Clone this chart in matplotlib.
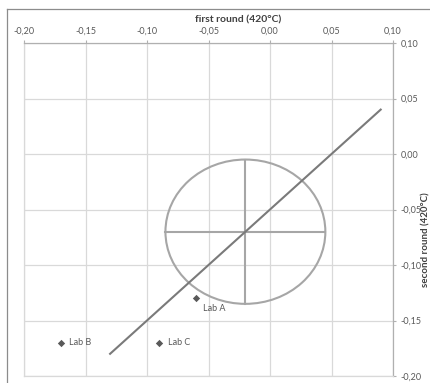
import matplotlib
matplotlib.use("Agg")
import matplotlib.pyplot as plt
from matplotlib.patches import Ellipse
from matplotlib.lines import Line2D

# ---- data ----
labs = ["Lab A", "Lab B", "Lab C"]
lab_x = [-0.06, -0.17, -0.09]
lab_y = [-0.13, -0.17, -0.17]

diag_x = [-0.13, 0.09]
diag_y = [-0.18, 0.04]

center = (-0.02, -0.07)
radius = 0.065
hbar_x = [-0.085, 0.045]
hbar_y = [-0.07, -0.07]
vbar_x = [-0.02, -0.02]
vbar_y = [-0.005, -0.135]

x_ticks = [-0.20, -0.15, -0.10, -0.05, 0.00, 0.05, 0.10]
x_ticklabels = ["-0,20", "-0,15", "-0,10", "-0,05", "0,00", "0,05", "0,10"]
y_ticks = [-0.20, -0.15, -0.10, -0.05, 0.00, 0.05, 0.10]
y_ticklabels = ["-0,20", "-0,15", "-0,10", "-0,05", "0,00", "0,05", "0,10"]

x_title = "first round (420°C)"
y_title = "second round (420°C)"

plt.rcParams['font.family'] = ['Lato', 'DejaVu Sans']

W, H = 430, 383
fig = plt.figure(figsize=(W / 100, H / 100), dpi=100)
fig.patch.set_facecolor("white")

ax = fig.add_axes([24 / W, 1 - 376 / H, (393 - 24) / W, (376 - 43) / H])
ax.set_xlim(-0.20, 0.10)
ax.set_ylim(-0.20, 0.10)

grid_c = "#d9d9d9"
axis_c = "#b0b0b0"
text_c = "#595959"

ax.set_xticks(x_ticks)
ax.set_xticklabels(x_ticklabels)
ax.set_yticks(y_ticks)
ax.set_yticklabels(y_ticklabels)
ax.xaxis.tick_top()
ax.yaxis.tick_right()
ax.tick_params(axis="both", direction="out", length=2.5, width=0.8, color=axis_c,
               labelsize=6.5, labelcolor=text_c, pad=3)
ax.grid(True, color=grid_c, linewidth=0.9)
ax.set_axisbelow(True)
for side in ["bottom", "left"]:
    ax.spines[side].set_color(grid_c)
    ax.spines[side].set_linewidth(0.9)
for side in ["top", "right"]:
    ax.spines[side].set_color(axis_c)
    ax.spines[side].set_linewidth(0.9)

# circle and cross
ax.add_patch(Ellipse(center, 2 * radius, 2 * radius, fill=False,
                     edgecolor="#a6a6a6", linewidth=1.5, zorder=3))
ax.plot(hbar_x, hbar_y, color="#a6a6a6", linewidth=1.5, zorder=3)
ax.plot(vbar_x, vbar_y, color="#a6a6a6", linewidth=1.5, zorder=3)

# diagonal
ax.plot(diag_x, diag_y, color="#7a7a7a", linewidth=1.5, zorder=4)

# labs
ax.scatter(lab_x, lab_y, marker="D", s=14, color="#595959", zorder=5, linewidths=0)
offsets = {"Lab A": (5, -7), "Lab B": (6, 0), "Lab C": (6, 0)}
for name, x, y in zip(labs, lab_x, lab_y):
    ax.annotate(name, (x, y), xytext=offsets[name], textcoords="offset points",
                fontsize=6.5, color=text_c, ha="left", va="center")

# axis titles
fig.text(238 / W, 1 - 20 / H, x_title, ha="center", va="center",
         fontsize=7.5, fontweight="bold", color="#404040")
fig.text(426 / W, 1 - 240 / H, y_title, ha="center", va="center", rotation=90,
         fontsize=7, fontweight="bold", color="#404040")

# outer chart border (top and left visible)
fig.add_artist(Line2D([7 / W, 7 / W], [0, 1 - 9 / H], transform=fig.transFigure,
                      color="#8c8c8c", linewidth=0.9))
fig.add_artist(Line2D([7 / W, 1], [1 - 9 / H, 1 - 9 / H], transform=fig.transFigure,
                      color="#8c8c8c", linewidth=0.9))

fig.savefig("out.png", dpi=100)
